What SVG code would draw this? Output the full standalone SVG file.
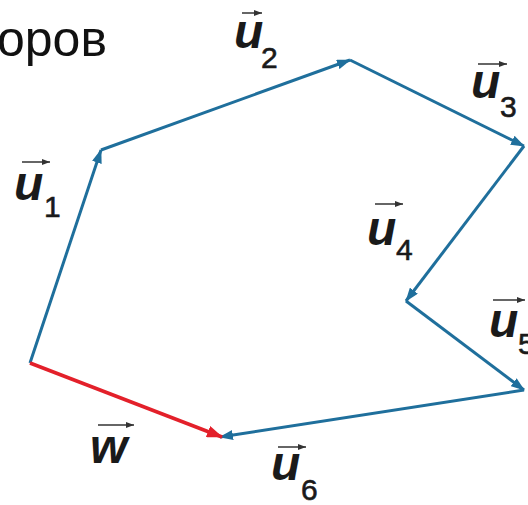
<svg xmlns="http://www.w3.org/2000/svg" width="528" height="505" viewBox="0 0 528 505">
<style>
.v{fill:none;stroke:#1f6f9c;stroke-width:3;stroke-linejoin:miter}
.w{fill:none;stroke:#e3202a;stroke-width:3.5}
.lab{font-family:"Liberation Sans",Arial,sans-serif;font-style:italic;font-weight:bold;font-size:48px;fill:#1a1a1a}
.sub{font-family:"Liberation Sans",Arial,sans-serif;font-size:30px;fill:#1a1a1a;stroke:#1a1a1a;stroke-width:0.6}
.ov{fill:none;stroke:#333;stroke-width:1.5}
.title{font-family:"Liberation Sans",Arial,sans-serif;font-size:50px;fill:#111}
</style>
<defs>
<marker id="ab" markerUnits="userSpaceOnUse" markerWidth="14" markerHeight="10" refX="13" refY="5" orient="auto"><path d="M0,0 L14,5 L0,10 z" fill="#1f6f9c"/></marker>
<marker id="ar" markerUnits="userSpaceOnUse" markerWidth="16" markerHeight="12" refX="15" refY="6" orient="auto"><path d="M0,0 L16,6 L0,12 z" fill="#e3202a"/></marker>
<marker id="as" markerUnits="userSpaceOnUse" markerWidth="8" markerHeight="6" refX="8" refY="3" orient="auto"><path d="M0,0 L8,3 L0,6 z" fill="#333"/></marker>
</defs>
<text class="title" x="-3" y="56">оров</text>
<g id="connectors">
<line class="v" x1="30" y1="363" x2="101" y2="150" marker-end="url(#ab)"/>
<line class="v" x1="101" y1="150" x2="350" y2="60" marker-end="url(#ab)"/>
<line class="v" x1="350" y1="60" x2="524" y2="146" marker-end="url(#ab)"/>
<line class="v" x1="524" y1="146" x2="406" y2="301" marker-end="url(#ab)"/>
<line class="v" x1="406" y1="301" x2="524" y2="390" marker-end="url(#ab)"/>
<line class="v" x1="524" y1="390" x2="220" y2="437" marker-end="url(#ab)"/>
<line class="w" x1="30" y1="363" x2="222" y2="437" marker-end="url(#ar)"/>
</g>
<g id="label-u1"><text class="lab" x="14" y="200">u</text><text class="sub" x="44" y="217">1</text><line class="ov" x1="22" y1="162" x2="50" y2="162" marker-end="url(#as)"/></g>
<g id="label-u2"><text class="lab" x="234" y="48">u</text><text class="sub" x="261" y="68">2</text><line class="ov" x1="242" y1="13" x2="262" y2="13" marker-end="url(#as)"/></g>
<g id="label-u3"><text class="lab" x="471" y="98">u</text><text class="sub" x="500" y="117">3</text><line class="ov" x1="478" y1="64" x2="507" y2="64" marker-end="url(#as)"/></g>
<g id="label-u4"><text class="lab" x="367" y="245">u</text><text class="sub" x="396" y="260">4</text><line class="ov" x1="375" y1="204" x2="403" y2="204" marker-end="url(#as)"/></g>
<g id="label-u5"><text class="lab" x="489" y="337">u</text><text class="sub" x="518" y="354">5</text><line class="ov" x1="493" y1="300" x2="525" y2="300" marker-end="url(#as)"/></g>
<g id="label-u6"><text class="lab" x="271" y="480">u</text><text class="sub" x="301" y="500">6</text><line class="ov" x1="278" y1="447" x2="306" y2="447" marker-end="url(#as)"/></g>
<g id="label-w"><text class="lab" x="90" y="463">w</text><line class="ov" x1="98" y1="425" x2="134" y2="425" marker-end="url(#as)"/></g>
</svg>
